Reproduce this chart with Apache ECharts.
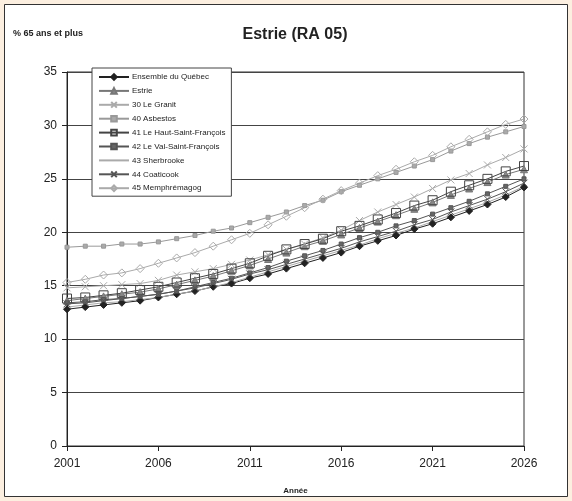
<!DOCTYPE html>
<html><head><meta charset="utf-8">
<script src="https://cdn.jsdelivr.net/npm/echarts@6/dist/echarts.min.js"></script>
<style>html,body{margin:0;padding:0;background:#fcefe0;}#c{width:572px;height:501px;}</style>
</head><body><div id="c"></div>
<script>
const years = [];
for (let y = 2001; y <= 2026; y++) years.push(String(y));

const quebec    = [12.8,13.0,13.2,13.4,13.6,13.9,14.2,14.5,14.9,15.2,15.7,16.1,16.6,17.1,17.6,18.1,18.7,19.2,19.7,20.3,20.8,21.4,22.0,22.6,23.3,24.2];
const estrie    = [13.6,13.8,14.0,14.2,14.4,14.7,15.1,15.5,15.9,16.4,16.9,17.5,18.1,18.7,19.2,19.8,20.4,21.0,21.6,22.2,22.8,23.5,24.1,24.7,25.4,25.9];
const granit    = [14.8,14.9,15.0,15.1,15.2,15.5,16.0,16.3,16.6,17.0,17.4,17.9,18.4,18.9,19.5,20.2,21.1,21.9,22.6,23.3,24.1,24.9,25.5,26.3,27.0,27.8];
const asbestos  = [18.6,18.7,18.7,18.9,18.9,19.1,19.4,19.7,20.1,20.4,20.9,21.4,21.9,22.5,23.0,23.8,24.4,25.0,25.6,26.2,26.8,27.6,28.3,28.9,29.4,29.9];
const hautSF    = [13.8,13.9,14.1,14.3,14.6,14.9,15.3,15.7,16.1,16.6,17.1,17.8,18.4,18.9,19.4,20.1,20.6,21.2,21.8,22.5,23.0,23.8,24.4,25.0,25.7,26.2];
const valSF     = [13.4,13.5,13.7,13.8,14.0,14.2,14.5,14.9,15.3,15.7,16.2,16.7,17.3,17.8,18.3,18.9,19.5,20.0,20.6,21.1,21.7,22.3,22.9,23.6,24.3,25.0];
const sherbrooke= [13.0,13.2,13.4,13.5,13.7,13.9,14.2,14.5,14.9,15.3,15.8,16.3,16.8,17.3,17.8,18.3,18.8,19.4,19.9,20.4,21.0,21.6,22.2,22.8,23.5,24.3];
const coaticook = [13.3,13.4,13.6,13.8,14.0,14.2,14.5,14.8,15.2,15.6,16.1,16.5,17.0,17.5,18.0,18.5,19.1,19.6,20.1,20.7,21.2,21.9,22.5,23.1,23.8,24.6];
const memphre   = [15.3,15.6,16.0,16.2,16.6,17.1,17.6,18.1,18.7,19.3,19.9,20.7,21.5,22.3,23.1,23.9,24.6,25.3,25.9,26.6,27.2,28.0,28.7,29.4,30.1,30.6];

const names = ['Ensemble du Québec','Estrie','30 Le Granit','40 Asbestos','41 Le Haut-Saint-François','42 Le Val-Saint-François','43 Sherbrooke','44 Coaticook','45 Memphrémagog'];
const yTicks = ['0','5','10','15','20','25','30','35'];

const X = 'path://M0,0L10,10M10,0L0,10';
function s(name, data, color, symbol, size, fill, bw) {
  return {
    name, type: 'line', data, symbol: symbol || 'none', symbolSize: size || 6,
    showSymbol: !!symbol,
    lineStyle: { color, width: 1 },
    itemStyle: { color: fill || color, borderColor: color, borderWidth: bw === undefined ? 1 : bw },
    emphasis: { disabled: true }, animation: false, z: 3
  };
}

const legendData = names.map((n, i) => i === 6 ? { name: n, itemStyle: { opacity: 0 } } : { name: n });

const chart = echarts.init(document.getElementById('c'), null, { renderer: 'canvas' });
chart.setOption({
  backgroundColor: '#fcefe0',
  animation: false,
  textStyle: { fontFamily: 'Liberation Sans, Arial, sans-serif' },
  graphic: [
    { type: 'rect', z: -10, silent: true, shape: { x: 4.5, y: 4.5, width: 563, height: 492 },
      style: { fill: '#ffffff', stroke: '#333', lineWidth: 1 } },
    { type: 'text', left: 13, top: 29, style: { text: '% 65 ans et plus', font: 'bold 9px Liberation Sans, Arial', fill: '#222' } }
  ],
  title: {
    text: 'Estrie (RA 05)', left: 290, top: 22, textAlign: 'center',
    textStyle: { fontSize: 16, fontWeight: 'bold', color: '#222', fontFamily: 'Liberation Sans, Arial, sans-serif' }
  },
  legend: {
    orient: 'vertical', left: 92, top: 68, data: legendData,
    backgroundColor: '#fff', borderColor: '#444', borderWidth: 1,
    padding: [5, 6, 4, 6], itemGap: 5.9, itemWidth: 30, itemHeight: 7,
    textStyle: { fontSize: 8, color: '#222', padding: [0, 0, 0, -2] },
    selectedMode: false, z: 10
  },
  grid: { left: 67, right: 48, top: 72, bottom: 55, show: true, borderColor: '#333', borderWidth: 1, backgroundColor: '#fff' },
  xAxis: {
    type: 'category', data: years, boundaryGap: false,
    name: 'Année', nameLocation: 'middle', nameGap: 41,
    nameTextStyle: { fontSize: 8, fontWeight: 'bold', color: '#222' },
    axisLine: { lineStyle: { color: '#222', width: 1 } },
    axisTick: { interval: 4, length: 5, lineStyle: { color: '#222' } },
    axisLabel: { interval: 4, fontSize: 12, color: '#222', margin: 12 },
    splitLine: { show: false }
  },
  yAxis: {
    type: 'value', min: 0, max: 35, interval: 5,
    axisLine: { show: true, lineStyle: { color: '#222', width: 1 } },
    axisTick: { show: true, length: 5, lineStyle: { color: '#222' } },
    axisLabel: { fontSize: 12, color: '#222', margin: 10, formatter: (v) => yTicks[Math.round(v / 5)] },
    splitLine: { show: true, lineStyle: { color: '#444', width: 1 } }
  },
  series: [
    s(names[0], quebec, '#222', 'diamond', 7, '#222'),
    s(names[1], estrie, '#777', 'triangle', 7, '#888'),
    s(names[2], granit, '#aaa', X, 7, 'rgba(0,0,0,0)', 1),
    s(names[3], asbestos, '#999', 'rect', 4, '#aaa'),
    s(names[4], hautSF, '#444', 'rect', 9, 'rgba(255,255,255,0)'),
    s(names[5], valSF, '#555', 'rect', 4, '#666'),
    s(names[6], sherbrooke, '#aaa', null),
    s(names[7], coaticook, '#555', X, 7, 'rgba(0,0,0,0)', 1),
    s(names[8], memphre, '#aaa', 'diamond', 8, 'rgba(255,255,255,0)')
  ]
});
</script></body></html>
